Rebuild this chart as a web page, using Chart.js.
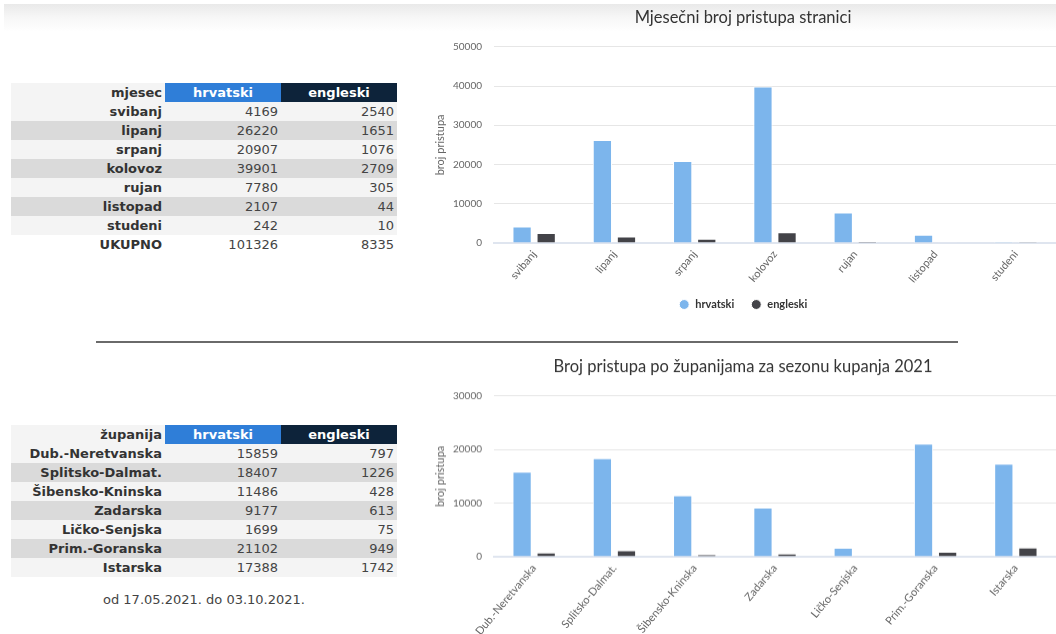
<!DOCTYPE html>
<html>
<head>
<meta charset="utf-8">
<script src="https://cdn.jsdelivr.net/npm/chart.js@4"></script>
<style>
html, body { margin:0; padding:0; width:1056px; height:634px; overflow:hidden; background:#fff; }
body { position:relative; font-family:"DejaVu Sans", Verdana, sans-serif; }
#shadow { position:absolute; left:4px; right:0; top:4px; height:28px;
  background:linear-gradient(to bottom, #e9e9e9 0%, #f6f6f6 45%, rgba(255,255,255,0) 100%); }
table.stat { position:absolute; left:11px; border-collapse:collapse; font-size:13px; }
table.stat td, table.stat th { height:19px; line-height:19px; padding:0 3px 0 0; white-space:nowrap; }
table.stat th { font-weight:bold; }
table.stat .lab { width:151px; text-align:right; font-weight:bold; color:#333; }
table.stat .num { width:113px; text-align:right; color:#444; }
table.stat th.hr { background:#2f7ed8; color:#fff; text-align:center; width:116px; padding:0; }
table.stat th.en { background:#0d233a; color:#fff; text-align:center; width:116px; padding:0; }
table.stat tr.l { background:#f4f4f4; }
table.stat tr.d { background:#dadada; }
#t1 { top:83px; }
#t2 { top:425px; }
#sep { position:absolute; left:96px; width:862px; top:341px; height:2px; background:#6a6a6a; }
#foot { position:absolute; left:11px; width:386px; top:592px; text-align:center; font-size:13px; line-height:16px; color:#444; }
.chartbox { position:absolute; left:420px; width:646px; }
#c1box { top:0px; height:320px; }
#c2box { top:349px; height:284.7px; }
</style>
</head>
<body>
<div id="shadow"></div>
<table class="stat" id="t1"></table>
<table class="stat" id="t2"></table>
<div id="sep"></div>
<div id="foot">od 17.05.2021. do 03.10.2021.</div>
<div class="chartbox" id="c1box"><canvas id="c1"></canvas></div>
<div class="chartbox" id="c2box"><canvas id="c2"></canvas></div>
<script>
// ---- data ----
const months = ['svibanj', 'lipanj', 'srpanj', 'kolovoz', 'rujan', 'listopad', 'studeni'];
const monthHrvatski = [4169, 26220, 20907, 39901, 7780, 2107, 242];
const monthEngleski = [2540, 1651, 1076, 2709, 305, 44, 10];
const monthTotals = [101326, 8335];

const counties = ['Dub.-Neretvanska', 'Splitsko-Dalmat.', 'Šibensko-Kninska', 'Zadarska', 'Ličko-Senjska', 'Prim.-Goranska', 'Istarska'];
const countyHrvatski = [15859, 18407, 11486, 9177, 1699, 21102, 17388];
const countyEngleski = [797, 1226, 428, 613, 75, 949, 1742];

const seriesNames = ['hrvatski', 'engleski'];
const chartTitles = ['Mjesečni broj pristupa stranici', 'Broj pristupa po županijama za sezonu kupanja 2021'];
const yAxisTitle = 'broj pristupa';
const yMax1 = 50000, yMax2 = 30000, yStep = 10000;

// ---- tables ----
function buildTable(id, headLabel, labels, a, b, totalRow) {
  const t = document.getElementById(id);
  let html = '<tr class="l"><th class="lab">' + headLabel + '</th><th class="hr">' + seriesNames[0] +
             '</th><th class="en">' + seriesNames[1] + '</th></tr>';
  labels.forEach((lab, i) => {
    html += '<tr class="' + (i % 2 === 0 ? 'l' : 'd') + '"><td class="lab">' + lab + '</td><td class="num">' +
            a[i] + '</td><td class="num">' + b[i] + '</td></tr>';
  });
  if (totalRow) {
    html += '<tr><td class="lab">' + totalRow[0] + '</td><td class="num">' + totalRow[1] +
            '</td><td class="num">' + totalRow[2] + '</td></tr>';
  }
  t.innerHTML = html;
}
buildTable('t1', 'mjesec', months, monthHrvatski, monthEngleski, ['UKUPNO', monthTotals[0], monthTotals[1]]);
buildTable('t2', 'županija', counties, countyHrvatski, countyEngleski, null);

// ---- charts ----
function makeChart(canvasId, title, labels, hr, en, ymax, showLegend) {
  return new Chart(document.getElementById(canvasId), {
    type: 'bar',
    data: {
      labels: labels,
      datasets: [
        { label: seriesNames[0], data: hr, backgroundColor: '#7cb5ec', borderColor: '#ffffff', borderWidth: 1,
          categoryPercentage: 0.6, barPercentage: 0.8 },
        { label: seriesNames[1], data: en, backgroundColor: '#434348', borderColor: '#ffffff', borderWidth: 1,
          categoryPercentage: 0.6, barPercentage: 0.8 }
      ]
    },
    options: {
      responsive: true, maintainAspectRatio: false, animation: false,
      layout: { padding: { left: 10, right: 10, top: 0, bottom: 0 } },
      plugins: {
        title: { display: true, text: title, color: '#333333',
                 font: { family: 'Lato', size: 16.5, weight: 'normal' }, padding: { top: 8, bottom: 19 } },
        legend: { display: showLegend, position: 'bottom',
                  labels: { usePointStyle: true, pointStyle: 'circle', boxWidth: 11, boxHeight: 7, padding: 16.5,
                            color: '#333333', font: { family: 'Lato', size: 11, weight: 'bold' } } },
        tooltip: { enabled: false }
      },
      scales: {
        x: {
          grid: { display: false },
          border: { display: true, color: '#dfe5ef', width: 2 },
          ticks: { color: '#666666', font: { family: 'Lato', size: 11 }, minRotation: 50, maxRotation: 50,
                   autoSkip: false, padding: -3 }
        },
        y: {
          min: 0, max: ymax,
          ticks: { stepSize: yStep, color: '#666666', font: { family: 'Lato', size: 10 }, padding: 12,
                   callback: function (v) { return String(v); } },
          grid: { color: '#e6e6e6', drawTicks: false },
          border: { display: false },
          title: { display: true, text: yAxisTitle, color: '#666666', font: { family: 'Lato', size: 11 },
                   padding: { top: 4, bottom: 0 } },
          afterFit: function (s) { s.width = 64; }
        }
      }
    }
  });
}
makeChart('c1', chartTitles[0], months, monthHrvatski, monthEngleski, yMax1, true);
makeChart('c2', chartTitles[1], counties, countyHrvatski, countyEngleski, yMax2, false);
</script>
</body>
</html>
